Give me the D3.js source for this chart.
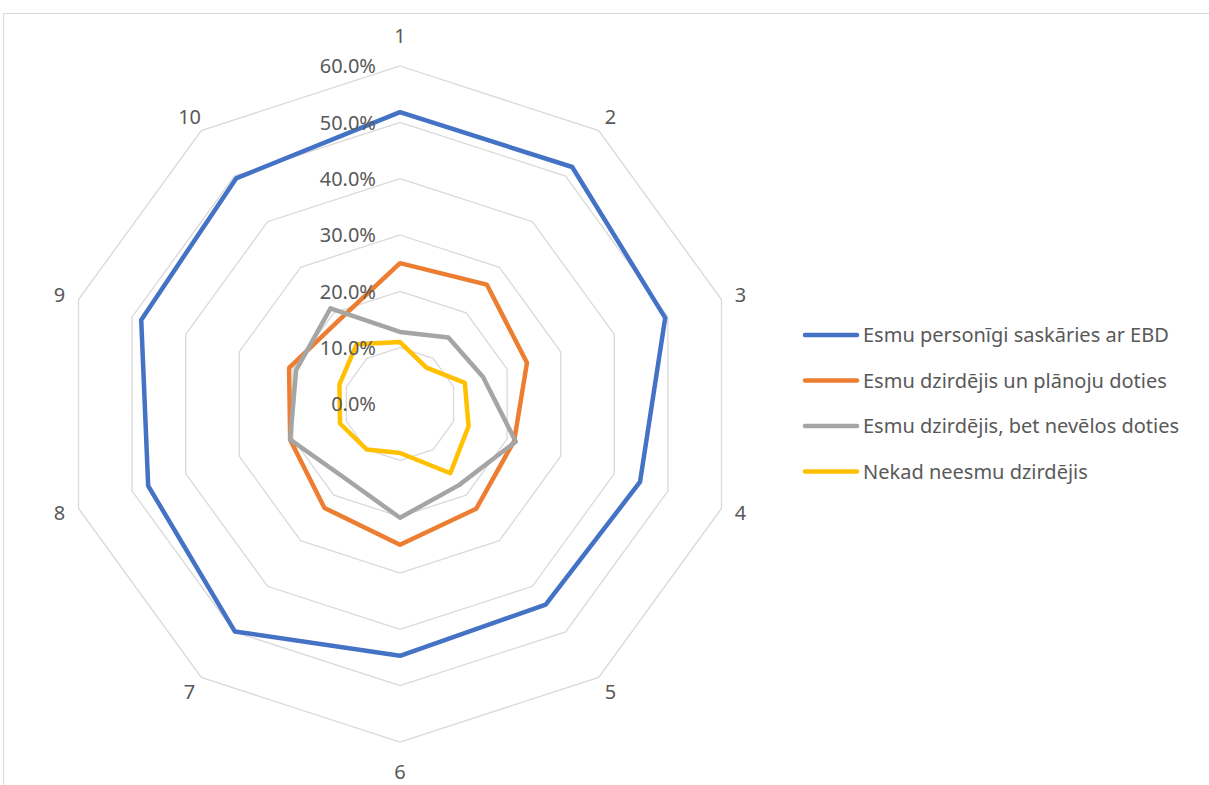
<!DOCTYPE html>
<html>
<head>
<meta charset="utf-8">
<script src="https://cdn.jsdelivr.net/npm/d3@7"></script>
<style>
  body { margin: 0; background: #fff; }
  svg { display: block; font-family: "Noto Sans", "Open Sans", sans-serif; }
</style>
</head>
<body>
<svg id="mySvg" width="1209" height="785"></svg>
<script>
// chart data
var categories = ["1", "2", "3", "4", "5", "6", "7", "8", "9", "10"];
var tickValues = [0, 0.1, 0.2, 0.3, 0.4, 0.5, 0.6];
var seriesNames = [
  "Esmu personīgi saskāries ar EBD",
  "Esmu dzirdējis un plānoju doties",
  "Esmu dzirdējis, bet nevēlos doties",
  "Nekad neesmu dzirdējis"
];
var personally = [0.518, 0.520, 0.495, 0.448, 0.440, 0.447, 0.499, 0.470, 0.483, 0.495];
var planning   = [0.250, 0.262, 0.237, 0.213, 0.230, 0.250, 0.228, 0.205, 0.207, 0.184];
var notWanting = [0.128, 0.146, 0.155, 0.216, 0.178, 0.202, 0.164, 0.205, 0.194, 0.210];
var neverHeard = [0.110, 0.080, 0.121, 0.128, 0.152, 0.087, 0.100, 0.112, 0.113, 0.131];
var colors = ["#4472C4", "#ED7D31", "#A5A5A5", "#FFC000"];

var width = 1209, height = 785;
var cx = 400, cy = 404, radius = 338;
var fontSize = 20;

var svg = d3.select("#mySvg");

// outer chart border
svg.append("rect")
    .attr("x", 3.5).attr("y", 13.5)
    .attr("width", width).attr("height", height)
    .attr("fill", "none")
    .attr("stroke", "#D9D9D9")
    .attr("stroke-width", 1);

var r = d3.scaleLinear().domain([0, 0.6]).range([0, radius]);
var angle = d3.scalePoint().domain(categories).range([0, 2 * Math.PI * (categories.length - 1) / categories.length]);

var g = svg.append("g").attr("transform", `translate(${cx},${cy})`);

// grid rings
var ring = d3.lineRadial()
    .angle(d => angle(d))
    .curve(d3.curveLinearClosed);

g.selectAll(".ring")
  .data(tickValues)
  .join("path")
    .attr("class", "ring")
    .attr("fill", "none")
    .attr("stroke", "#D9D9D9")
    .attr("stroke-width", 1.3)
    .attr("d", t => ring.radius(r(t))(categories));

// series
var allSeries = [personally, planning, notWanting, neverHeard];
var line = d3.lineRadial()
    .angle((d, i) => angle(categories[i]))
    .radius(d => r(d))
    .curve(d3.curveLinearClosed);

g.selectAll(".series")
  .data(allSeries)
  .join("path")
    .attr("class", "series")
    .attr("fill", "none")
    .attr("stroke", (d, i) => colors[i])
    .attr("stroke-width", 4.5)
    .attr("stroke-linejoin", "round")
    .attr("d", d => line(d));

// tick labels
g.selectAll(".tick")
  .data(tickValues)
  .join("text")
    .attr("class", "tick")
    .attr("x", -24)
    .attr("y", t => -r(t))
    .attr("dy", "0.36em")
    .attr("text-anchor", "end")
    .attr("fill", "#595959")
    .attr("font-size", fontSize)
    .text(d3.format(".1%"));

// category labels, pushed out a bit more above and below
g.selectAll(".cat")
  .data(categories)
  .join("text")
    .attr("class", "cat")
    .attr("x", d => Math.sin(angle(d)) * (radius + 20))
    .attr("y", d => {
      var c = Math.cos(angle(d));
      return -c * (radius + 14) - Math.sign(c) * 16 * Math.pow(c, 8);
    })
    .attr("dy", "0.36em")
    .attr("text-anchor", "middle")
    .attr("fill", "#595959")
    .attr("font-size", fontSize)
    .text(d => d);

// legend
var legend = svg.append("g").attr("transform", "translate(803,335)");
var item = legend.selectAll("g")
  .data(seriesNames)
  .join("g")
    .attr("transform", (d, i) => `translate(0,${i * 45.5})`);

item.append("line")
    .attr("x1", 2).attr("x2", 54)
    .attr("stroke", (d, i) => colors[i])
    .attr("stroke-width", 4.5)
    .attr("stroke-linecap", "round");

item.append("text")
    .attr("x", 60)
    .attr("dy", "0.36em")
    .attr("fill", "#595959")
    .attr("font-size", fontSize)
    .text(d => d);
</script>
</body>
</html>
